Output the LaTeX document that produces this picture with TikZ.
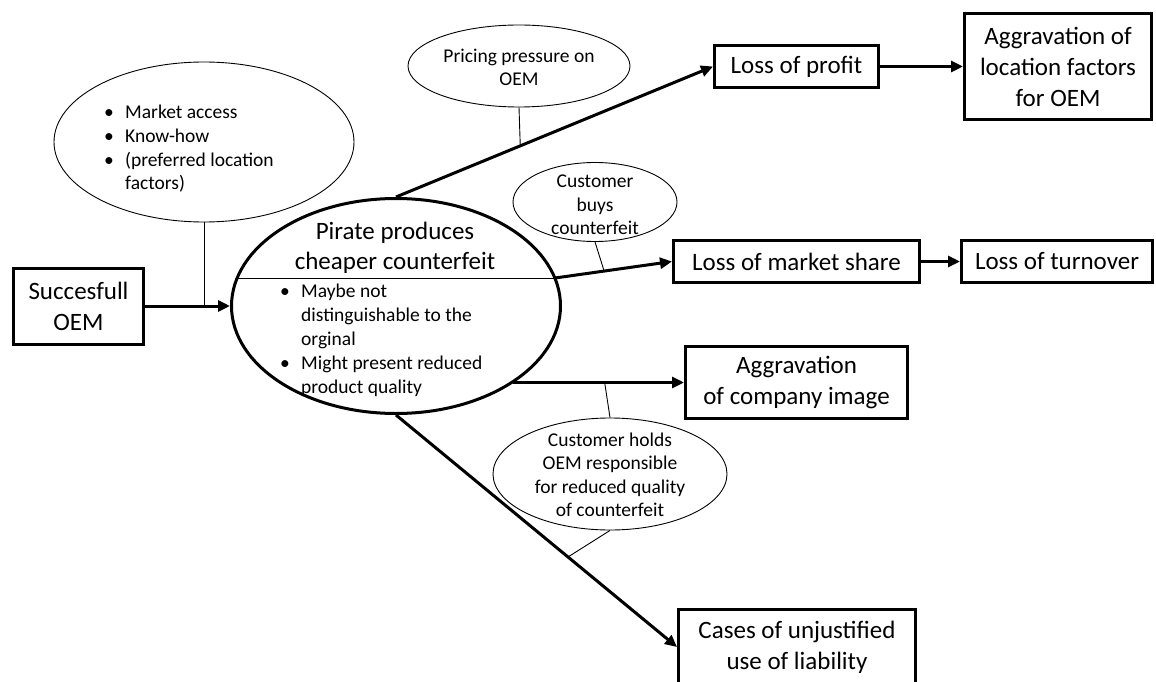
\documentclass[tikz,border=0pt]{standalone}
\usepackage{fontspec}
\setmainfont{Carlito}
\usetikzlibrary{shapes.geometric,arrows.meta,calc}
\newcommand\bitem[1]{\makebox[21pt][l]{\textbullet}#1}
\begin{document}
\begin{tikzpicture}[x=1pt,y=-1pt,
 box/.style={draw,line width=3pt,inner sep=0pt,align=center,font=\fontsize{25}{31}\selectfont},
 oval/.style={draw,ellipse,line width=0.9pt,inner sep=0pt},
 small/.style={inner sep=0pt,align=center,font=\fontsize{19.5}{23.5}\selectfont},
 smallleft/.style={inner sep=0pt,align=left,font=\fontsize{19.5}{23.5}\selectfont},
 arr/.style={line width=3pt,-{Triangle[length=12pt,width=11pt]}},
 thinline/.style={line width=0.9pt}]
\useasboundingbox (0,0) rectangle (1156,682);
\clip (0,0) rectangle (1156,682);

% boxes
\node[box,minimum width=130pt,minimum height=76pt] (oem) at (78.5,306) {Succesfull\\OEM};
\node[box,minimum width=164pt,minimum height=42pt] (profit) at (796.5,66.5) {Loss of profit};
\node[box,minimum width=187pt,minimum height=106pt] (locf) at (1058,66.5) {Aggravation of\\location factors\\for OEM};
\node[box,minimum width=246pt,minimum height=42pt] (share) at (796.5,261.5) {Loss of market\ share};
\node[box,minimum width=191pt,minimum height=42pt] (turn) at (1057,261.5) {Loss of turnover};
\node[box,minimum width=222pt,minimum height=72pt] (image) at (796.5,382.5) {Aggravation\\of company image};
\node[box,minimum width=237pt,minimum height=75pt] (cases) at (797,647) {Cases of unjustified\\use of liability};

% main ellipse
\node[draw,ellipse,line width=3pt,minimum width=329pt,minimum height=215pt,inner sep=0pt] (pirate) at (396,306) {};
\node[inner sep=0pt,align=center,font=\fontsize{25}{30}\selectfont] (title) at (395,248) {Pirate produces\\cheaper counterfeit};
\node[smallleft,anchor=base west,font=\fontsize{19.5}{24}\selectfont] (pbul) at (280,393.5)
 {\bitem{Maybe not}\\\hspace*{21pt}distinguishable to the\\\hspace*{21pt}orginal\\\bitem{Might present reduced}\\\hspace*{21pt}product quality};
\coordinate (dl) at ($(pirate.center)+(-159,-28)$);
\coordinate (dr) at ($(pirate.center)+(159,-28)$);
\draw[thinline] (dl) -- (dr);

% side ellipses
\node[oval,minimum width=300pt,minimum height=160pt] (market) at (204,142) {};
\node[smallleft,anchor=base west] (mtext) at (104,189.5)
 {\bitem{Market access}\\\bitem{Know-how}\\\bitem{(preferred location}\\\hspace*{21pt}factors)};
\node[oval,minimum width=222pt,minimum height=82pt] (pricing) at (519,66) {};
\node[small] (ptext) at (519,67.5) {Pricing pressure on\\OEM};
\node[oval,minimum width=164pt,minimum height=79pt] (buys) at (595,202) {};
\node[small] (btext) at (595,205) {Customer\\buys\\counterfeit};
\node[oval,minimum width=234pt,minimum height=112pt] (holds) at (610,474) {};
\node[small] (htext) at (610,475) {Customer holds\\OEM responsible\\for reduced quality\\of counterfeit};

% connectors
\draw[arr] (oem.east) -- (pirate.west);
\draw[thinline] (market.south) -- (market.south |- oem.east);

\draw[arr] (pirate.north) -- coordinate[pos=0.392] (p1) (profit.west);
\draw[thinline] (pricing.south) -- (p1);
\draw[arr] (profit.east) -- (locf.west);

\draw[arr] (dr) -- coordinate[pos=0.42] (p2) (share.west);
\draw[thinline] (buys.south) -- (p2);
\draw[arr] (share.east) -- (turn.west);

\coordinate (is) at ($(pirate.center)+(117,76.5)$);
\draw[arr] (is) -- coordinate[pos=0.536] (p3) (image.west);
\draw[thinline] (holds.north) -- (p3);

\draw[arr] (pirate.south) -- coordinate[pos=0.612] (p4) (cases.west);
\draw[thinline] (holds.south) -- (p4);
\end{tikzpicture}
\end{document}
